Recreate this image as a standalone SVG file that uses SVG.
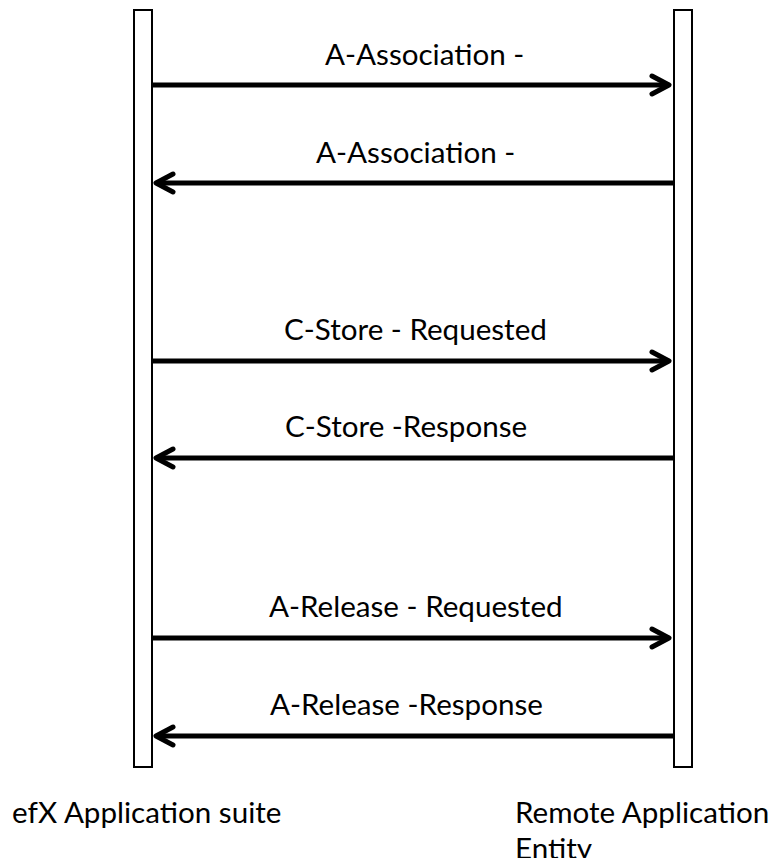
<svg xmlns="http://www.w3.org/2000/svg" width="772" height="858" viewBox="0 0 772 858">
<style>
.bar{fill:#fff;stroke:#000;stroke-width:2}
.msg{fill:none;stroke:#000;stroke-width:5;stroke-linecap:round;stroke-linejoin:round}
.line{fill:none;stroke:#000;stroke-width:5}
text{font-family:Lato,"Noto Sans",sans-serif;font-size:29.6px;fill:#000}
</style>
<rect width="772" height="858" fill="#fff"/>
<g id="efx">
<rect class="bar" x="134" y="10" width="18" height="757"/>
<text x="12" y="823">efX Application suite</text>
</g>
<g id="remote">
<rect class="bar" x="674" y="10" width="18" height="757"/>
<text x="515" y="823">Remote Application</text>
<text x="515" y="859">Entity</text>
</g>
<g id="connectors">
<line class="line" x1="153" y1="85" x2="669" y2="85"/>
<path class="msg" d="M652 76 L669 85 L652 94"/>
<text x="325" y="65">A-Association -</text>
<line class="line" x1="673" y1="183" x2="157" y2="183"/>
<path class="msg" d="M173 174 L156 183 L173 192"/>
<text x="316" y="163">A-Association -</text>
<line class="line" x1="153" y1="361" x2="669" y2="361"/>
<path class="msg" d="M652 352 L669 361 L652 370"/>
<text x="284" y="340">C-Store - Requested</text>
<line class="line" x1="673" y1="458" x2="157" y2="458"/>
<path class="msg" d="M173 449 L156 458 L173 467"/>
<text x="285" y="437">C-Store -Response</text>
<line class="line" x1="153" y1="638" x2="669" y2="638"/>
<path class="msg" d="M652 629 L669 638 L652 647"/>
<text x="269" y="617">A-Release - Requested</text>
<line class="line" x1="673" y1="736" x2="157" y2="736"/>
<path class="msg" d="M173 727 L156 736 L173 745"/>
<text x="270" y="715">A-Release -Response</text>
</g>
</svg>
